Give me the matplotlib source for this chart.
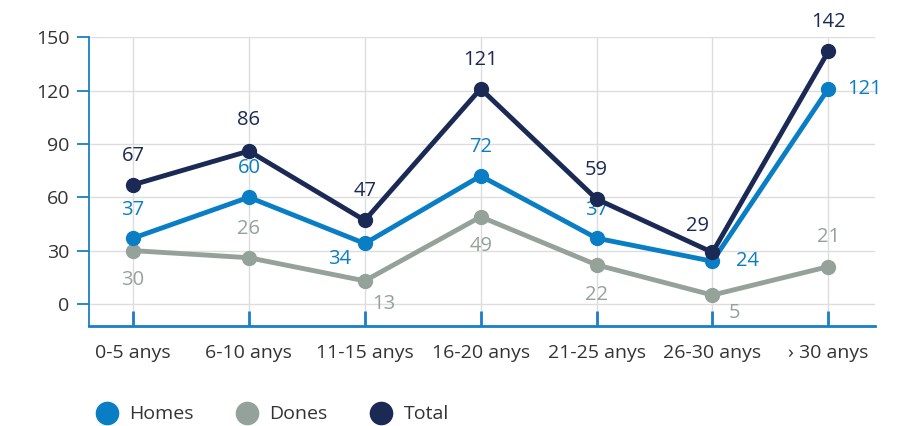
import matplotlib.pyplot as plt
from matplotlib.lines import Line2D

plt.rcParams["font.family"] = ["Open Sans", "DejaVu Sans"]

groups = ["0-5 anys", "6-10 anys", "11-15 anys", "16-20 anys",
          "21-25 anys", "26-30 anys", "› 30 anys"]
homes = [37, 60, 34, 72, 37, 24, 121]
dones = [30, 26, 13, 49, 22, 5, 21]
total = [67, 86, 47, 121, 59, 29, 142]

c_homes = "#0a7ec4"
c_dones = "#95a29a"
c_total = "#1b2a55"
c_axis = "#1a7fc6"

# label offsets in points (dx, dy) for each point
off_homes = [(0, 20), (0, 21), (-18, -11), (0, 21), (0, 20), (25, 0), (26, 0)]
off_dones = [(0, -21), (0, 21), (14, -17), (0, -21), (0, -22), (16, -13), (0, 21)]
off_total = [(0, 21), (0, 22), (0, 21), (0, 21), (0, 21), (-11, 19), (0, 21)]

fig = plt.figure(figsize=(9.19, 4.26), dpi=100)
ax = fig.add_axes([0.0968, 0.2347, 0.855, 0.678])

x = list(range(len(groups)))
for vals, col, offs in [(dones, c_dones, off_dones), (homes, c_homes, off_homes),
                        (total, c_total, off_total)]:
    ax.plot(x, vals, color=col, lw=3.5, marker="o", ms=10, zorder=3,
            solid_capstyle="round")
    for xi, v, (dx, dy) in zip(x, vals, offs):
        ax.annotate(str(v), (xi, v), xytext=(dx, dy), textcoords="offset points",
                    ha="center", va="center", color=col, fontsize=14.5)

ax.set_xlim(-0.38, 6.4)
ax.set_ylim(-12.4, 150)
ax.set_yticks([0, 30, 60, 90, 120, 150])
ax.set_xticks(x)
ax.set_xticklabels(groups)
ax.grid(True, color="#dddddd", lw=1)
ax.set_axisbelow(True)

for s in ["top", "right"]:
    ax.spines[s].set_visible(False)
ax.spines["left"].set_color(c_axis)
ax.spines["left"].set_linewidth(1.3)
ax.spines["bottom"].set_color(c_axis)
ax.spines["bottom"].set_linewidth(2)

ax.tick_params(axis="y", direction="out", length=9, width=1.3, color=c_axis,
               pad=5, labelsize=14, labelcolor="#333333")
ax.tick_params(axis="x", direction="in", length=11, width=2, color=c_axis,
               pad=13, labelsize=14, labelcolor="#333333")

handles = [Line2D([], [], ls="none", marker="o", ms=16, color=c)
           for c in (c_homes, c_dones, c_total)]
fig.legend(handles, ["Homes", "Dones", "Total"], loc="lower left",
           bbox_to_anchor=(0.076, -0.035), ncol=3, frameon=False, fontsize=14,
           handletextpad=0.15, columnspacing=1.75, labelcolor="#333333")

fig.savefig("out.png", dpi=100)
